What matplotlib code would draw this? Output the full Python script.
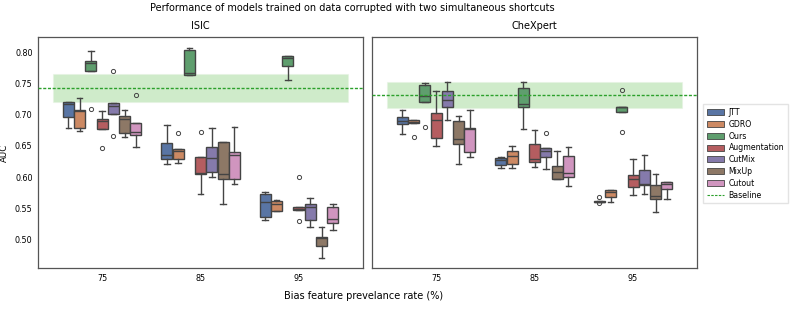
import matplotlib
matplotlib.use("Agg")
import matplotlib.pyplot as plt
import seaborn as sns
from matplotlib.patches import Patch
from matplotlib.lines import Line2D

datasets = ["ISIC", "CheXpert"]
rates = ["75", "85", "95"]
methods = ["JTT", "GDRO", "Ours", "Augmentation", "CutMix", "MixUp", "Cutout"]

# per dataset -> per rate -> per method: (whislo, q1, med, q3, whishi, fliers)
isic_stats = {
    "75": [
        (0.679, 0.697, 0.717, 0.721, 0.721, []),
        (0.674, 0.678, 0.706, 0.707, 0.727, []),
        (0.769, 0.769, 0.782, 0.785, 0.802, [0.709]),
        (0.677, 0.677, 0.690, 0.693, 0.706, [0.647]),
        (0.701, 0.701, 0.714, 0.719, 0.719, [0.770, 0.666]),
        (0.664, 0.671, 0.693, 0.698, 0.708, []),
        (0.649, 0.667, 0.673, 0.686, 0.686, [0.731]),
    ],
    "85": [
        (0.621, 0.629, 0.635, 0.654, 0.683, []),
        (0.623, 0.629, 0.642, 0.645, 0.645, [0.671]),
        (0.763, 0.764, 0.766, 0.803, 0.806, []),
        (0.574, 0.606, 0.607, 0.632, 0.632, [0.673]),
        (0.600, 0.609, 0.630, 0.648, 0.678, []),
        (0.558, 0.598, 0.605, 0.656, 0.657, []),
        (0.589, 0.598, 0.635, 0.641, 0.680, []),
    ],
    "95": [
        (0.532, 0.536, 0.560, 0.574, 0.577, []),
        (0.546, 0.546, 0.558, 0.562, 0.563, []),
        (0.756, 0.777, 0.790, 0.793, 0.794, []),
        (0.547, 0.547, 0.549, 0.553, 0.553, [0.601, 0.530]),
        (0.521, 0.531, 0.553, 0.558, 0.567, []),
        (0.471, 0.490, 0.503, 0.504, 0.520, []),
        (0.516, 0.527, 0.534, 0.552, 0.558, []),
    ],
}
chexpert_stats = {
    "75": [
        (0.669, 0.685, 0.690, 0.696, 0.707, []),
        (0.686, 0.686, 0.689, 0.692, 0.692, [0.665]),
        (0.720, 0.720, 0.729, 0.747, 0.750, [0.680]),
        (0.650, 0.662, 0.691, 0.703, 0.738, []),
        (0.691, 0.712, 0.724, 0.737, 0.752, []),
        (0.621, 0.653, 0.661, 0.690, 0.698, []),
        (0.632, 0.640, 0.677, 0.678, 0.708, []),
    ],
    "85": [
        (0.615, 0.620, 0.627, 0.630, 0.633, []),
        (0.615, 0.621, 0.634, 0.642, 0.650, []),
        (0.677, 0.713, 0.717, 0.742, 0.752, []),
        (0.617, 0.624, 0.629, 0.653, 0.676, []),
        (0.613, 0.632, 0.642, 0.646, 0.646, [0.670]),
        (0.597, 0.598, 0.609, 0.618, 0.642, []),
        (0.586, 0.600, 0.607, 0.634, 0.648, []),
    ],
    "95": [
        (0.5605, 0.5605, 0.561, 0.5615, 0.5615, [0.569, 0.5585]),
        (0.560, 0.569, 0.576, 0.579, 0.579, []),
        (0.704, 0.704, 0.712, 0.713, 0.713, [0.739, 0.673]),
        (0.571, 0.584, 0.597, 0.603, 0.629, []),
        (0.573, 0.587, 0.590, 0.611, 0.635, []),
        (0.544, 0.565, 0.570, 0.588, 0.606, []),
        (0.565, 0.581, 0.590, 0.592, 0.593, []),
    ],
}
all_stats = [isic_stats, chexpert_stats]

baseline_mean = [0.742, 0.7314]
baseline_lo = [0.7207, 0.7101]
baseline_hi = [0.7644, 0.7527]

plt.rcParams['font.family'] = ['DejaVu Sans']
fig, axes = plt.subplots(1, 2, figsize=(7.93, 3.11), dpi=100, sharey=True)
fig.subplots_adjust(left=0.048, right=0.879, top=0.881, bottom=0.138, wspace=0.028)

palette = sns.color_palette("deep", len(methods))
colors = [sns.desaturate(c, 0.75) for c in palette]
line_c = "#444444"
fs_title = 7
fs_tick = 5.8
fs_leg = 5.6
base_c = "#2ca02c"

nh = len(methods)
width = 0.8 / nh
for ai, ax in enumerate(axes):
    st = all_stats[ai]
    for ri, r in enumerate(rates):
        for mi, m in enumerate(methods):
            wl, q1, med, q3, wh, fl = st[r][mi]
            pos = ri - 0.4 + width * (mi + 0.5)
            bs = [dict(med=med, q1=q1, q3=q3, whislo=wl, whishi=wh, fliers=fl)]
            ax.bxp(bs, positions=[pos], widths=width * 0.98, patch_artist=True,
                   showcaps=True, manage_ticks=False,
                   boxprops=dict(facecolor=colors[mi], edgecolor=line_c, linewidth=1.0),
                   medianprops=dict(color=line_c, linewidth=1.0),
                   whiskerprops=dict(color=line_c, linewidth=1.0),
                   capprops=dict(color=line_c, linewidth=1.0),
                   flierprops=dict(marker='o', markersize=3, markerfacecolor='none',
                                   markeredgecolor=line_c, markeredgewidth=0.7))
    ax.fill_between([-0.5, 2.5], baseline_lo[ai], baseline_hi[ai],
                    facecolor="#a8dba0", alpha=0.55, edgecolor="#e4f3e1", linewidth=0.8, zorder=0)
    ax.axhline(baseline_mean[ai], color=base_c, linestyle=(0, (2.2, 1.2)), linewidth=1.0, zorder=3)
    ax.set_xlim(-0.65, 2.65)
    ax.set_ylim(0.455, 0.824)
    ax.set_xticks(range(len(rates)))
    ax.set_xticklabels(rates, fontsize=fs_tick)
    ax.set_title(datasets[ai], fontsize=fs_title, pad=6)
    ax.tick_params(axis='both', length=0, labelsize=fs_tick, pad=4)
    for s in ax.spines.values():
        s.set_color("#555555")
        s.set_linewidth(0.9)

axes[0].set_yticks([0.50, 0.55, 0.60, 0.65, 0.70, 0.75, 0.80])
axes[0].set_yticklabels(["0.50", "0.55", "0.60", "0.65", "0.70", "0.75", "0.80"])
axes[0].set_ylabel("AUC", fontsize=6.2, labelpad=4)
axes[1].tick_params(axis='y', labelleft=False)

fig.suptitle("Performance of models trained on data corrupted with two simultaneous shortcuts",
             fontsize=fs_title, x=0.444, y=0.974, va='center')
fig.text(0.459, 0.048, "Bias feature prevelance rate (%)", fontsize=fs_title,
         ha='center', va='center')

handles = [Patch(facecolor=colors[i], edgecolor=line_c, linewidth=0.6, label=m)
           for i, m in enumerate(methods)]
handles.append(Line2D([0], [0], color=base_c, linestyle=(0, (2.2, 1.2)), linewidth=0.8,
                      label="Baseline"))
axes[1].legend(handles=handles, loc='upper left', bbox_to_anchor=(1.018, 0.71),
               borderaxespad=0, fontsize=fs_leg, frameon=True, handlelength=2.2,
               handleheight=0.8, handletextpad=0.6, labelspacing=0.36, borderpad=0.5,
               edgecolor="#dddddd", fancybox=False)

fig.savefig("out.png", dpi=100)
